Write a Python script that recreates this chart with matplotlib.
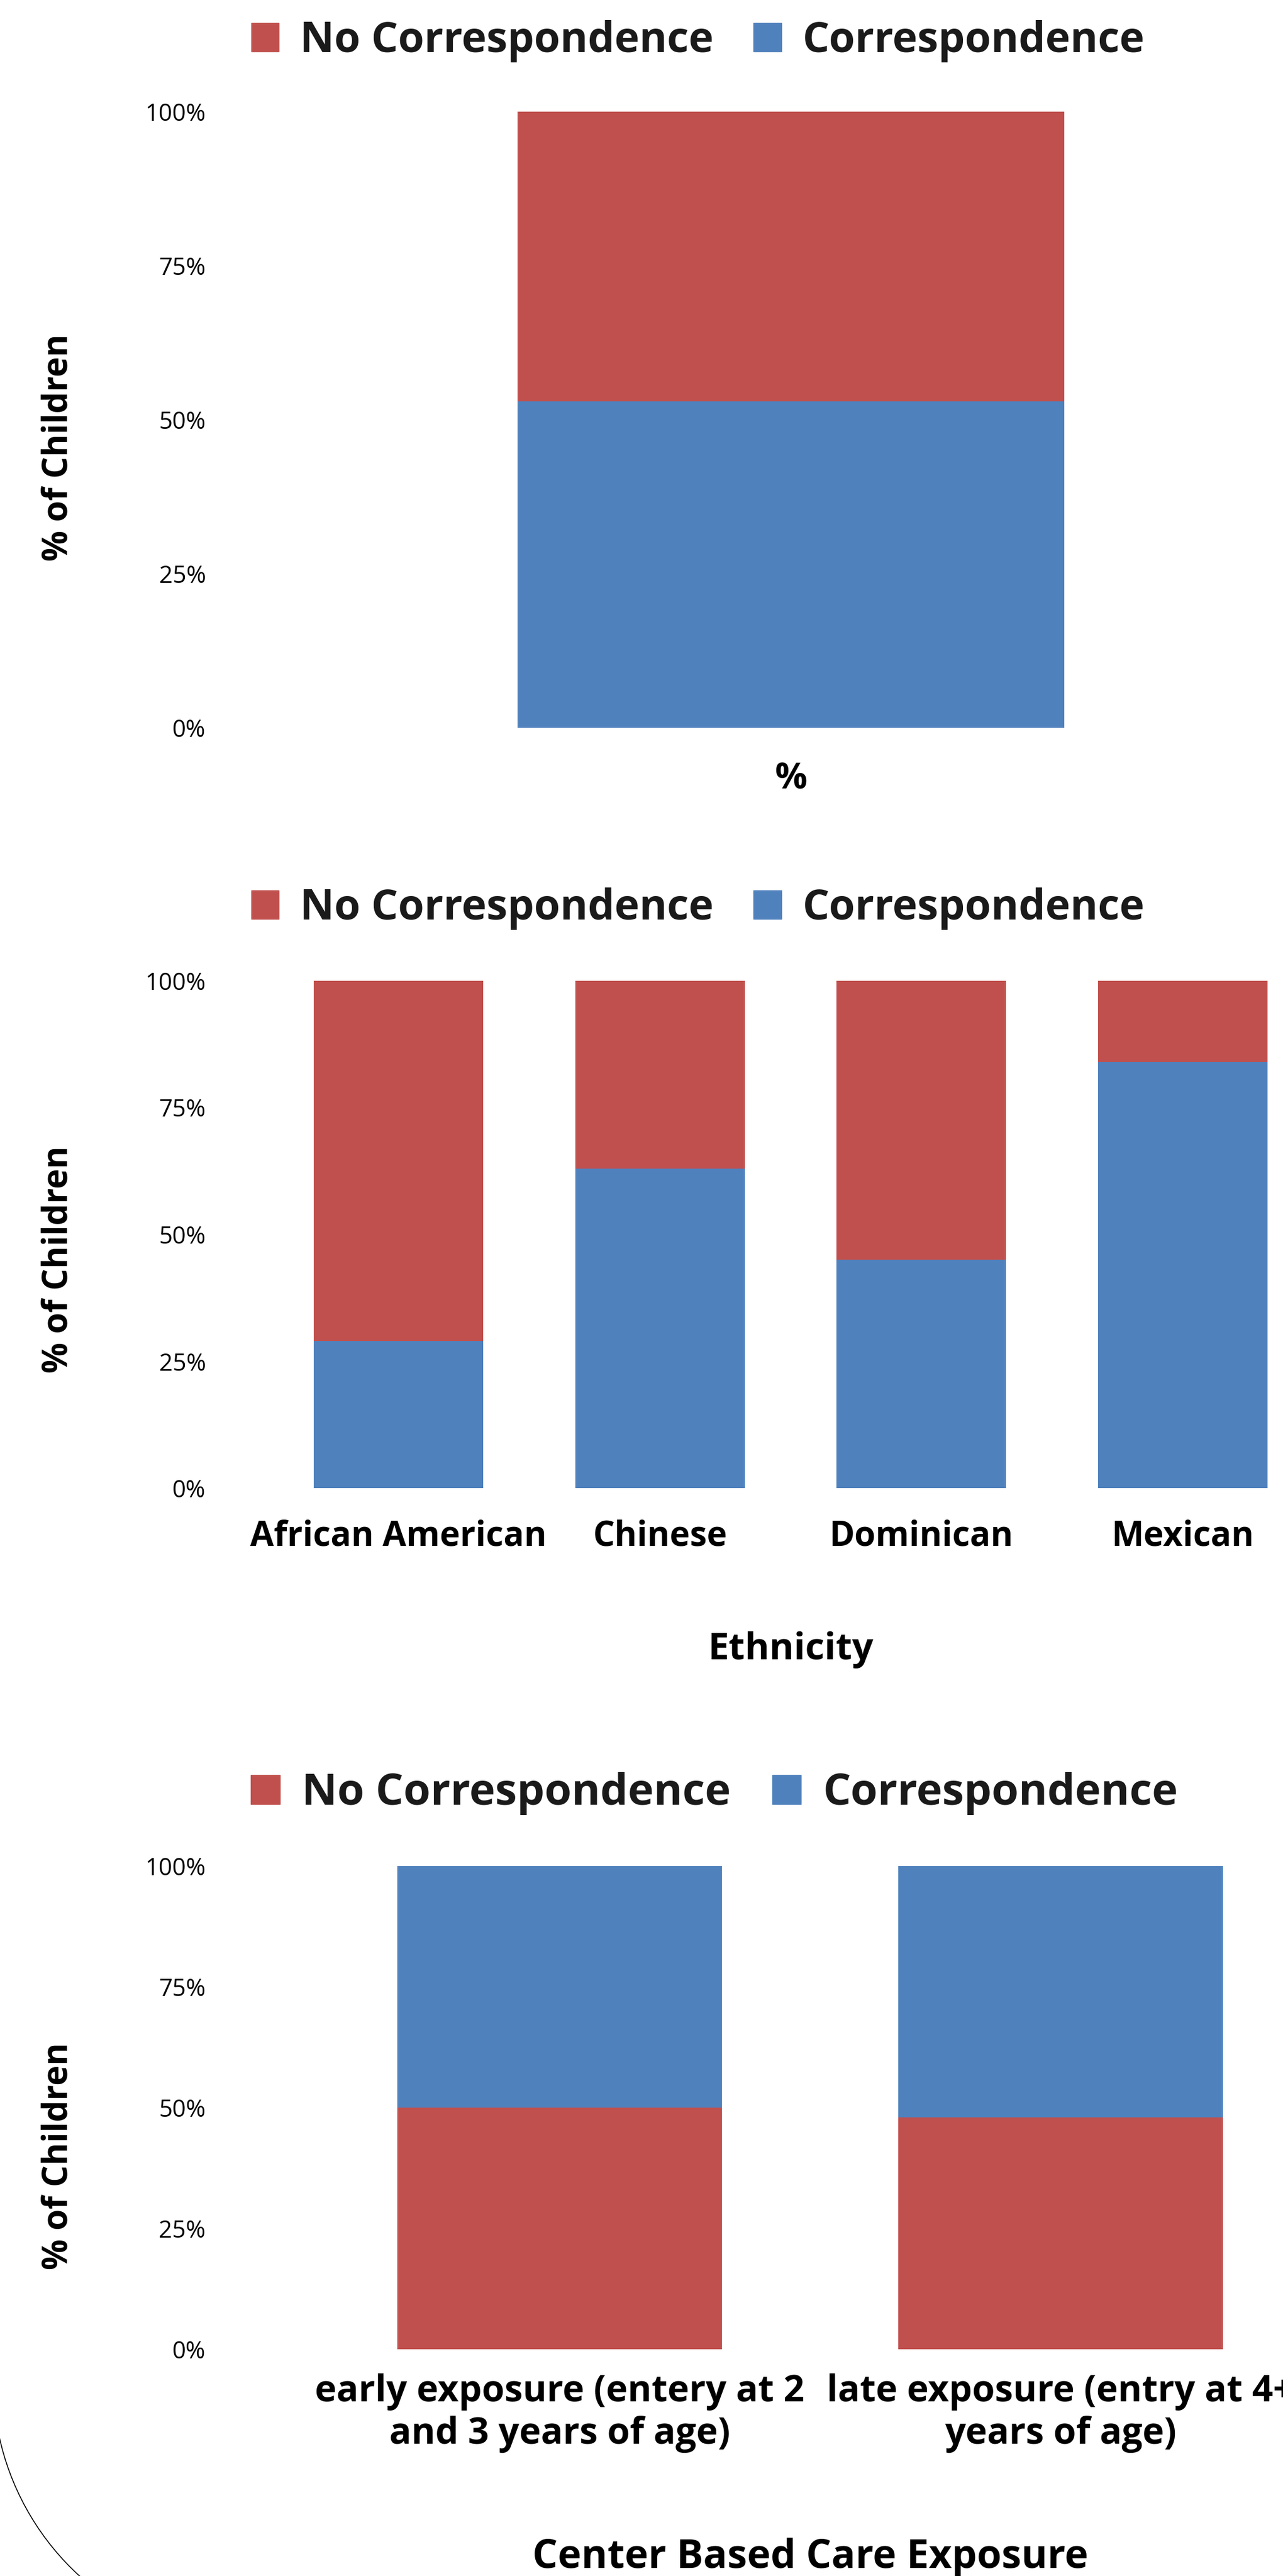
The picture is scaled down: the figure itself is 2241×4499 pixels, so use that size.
import matplotlib.pyplot as plt
from matplotlib.patches import Patch, Arc

# canvas size in pixels
W, H = 2241, 4499
DPI = 100

red = '#C0504D'
blue = '#4F81BD'

# ---- data ----
overall_cats = ['%']
overall_corr = [53]
overall_nocorr = [47]

eth_cats = ['African American', 'Chinese', 'Dominican', 'Mexican']
eth_corr = [29, 63, 45, 84]
eth_nocorr = [71, 37, 55, 16]

care_cats = ['early exposure (entery at 2\nand 3 years of age)',
             'late exposure (entry at 4+\nyears of age)']
care_nocorr = [50, 48]
care_corr = [50, 52]

ytick_vals = [0, 25, 50, 75, 100]
ytick_text = ['0%', '25%', '50%', '75%', '100%']
legend_labels = ['No Correspondence', 'Correspondence']

plt.rcParams['font.family'] = ['Open Sans', 'DejaVu Sans']

fig = plt.figure(figsize=(W / DPI, H / DPI), dpi=DPI)


def px_axes(left, right, top, bottom):
    # axes placed in pixel coords (y measured from top)
    return fig.add_axes([left / W, 1 - bottom / H, (right - left) / W, (bottom - top) / H])


def style_axes(ax, ncat, ypad, xpad, xsize):
    ax.set_ylim(0, 100)
    ax.set_xlim(-0.5, ncat - 0.5)
    for s in ax.spines.values():
        s.set_visible(False)
    ax.set_yticks(ytick_vals, ytick_text)
    ax.tick_params(axis='y', length=0, pad=ypad, labelsize=30)
    ax.tick_params(axis='x', length=0, pad=xpad, labelsize=xsize)
    for lbl in ax.get_xticklabels():
        lbl.set_fontweight('bold')


def add_legend(ax, cx, cy, size):
    handles = [Patch(facecolor=red, edgecolor=red), Patch(facecolor=blue, edgecolor=blue)]
    ax.legend(handles, legend_labels, ncol=2, loc='center',
              bbox_to_anchor=(cx / W, 1 - cy / H), bbox_transform=fig.transFigure,
              frameon=False, handlelength=0.66, handleheight=0.66,
              handletextpad=0.5, columnspacing=0.95, labelcolor='#1a1a1a',
              prop={'weight': 'bold', 'size': size})


def ylabel_at(y):
    fig.text(102 / W, 1 - y / H, '% of Children', rotation=90, ha='center', va='center',
             fontsize=43, fontweight='bold')


# ---- panel 1: overall ----
ax1 = px_axes(468, 2295, 195, 1271)
ax1.bar(range(len(overall_cats)), overall_corr, width=0.523, color=blue)
ax1.bar(range(len(overall_cats)), overall_nocorr, width=0.523, bottom=overall_corr, color=red)
ax1.set_xticks(range(len(overall_cats)), overall_cats)
style_axes(ax1, len(overall_cats), 78, 42, 45)
add_legend(ax1, 1219, 72, 53)
ylabel_at(782)

# ---- panel 2: ethnicity ----
ax2 = px_axes(468, 2294, 1713, 2599)
ax2.bar(range(len(eth_cats)), eth_corr, width=0.648, color=blue)
ax2.bar(range(len(eth_cats)), eth_nocorr, width=0.648, bottom=eth_corr, color=red)
ax2.set_xticks(range(len(eth_cats)), eth_cats)
style_axes(ax2, len(eth_cats), 78, 39, 43)
add_legend(ax2, 1219, 1587, 53)
ylabel_at(2200)
ax2.set_xlabel('Ethnicity', fontsize=47, fontweight='bold', va='baseline')
ax2.xaxis.set_label_coords(0.5, -(2898 - 2599) / (2599 - 1713))

# ---- panel 3: center based care ----
ax3 = px_axes(540, 2290, 3259, 4103)
ax3.bar(range(len(care_cats)), care_nocorr, width=0.649, color=red)
ax3.bar(range(len(care_cats)), care_corr, width=0.649, bottom=care_nocorr, color=blue)
ax3.set_xticks(range(len(care_cats)), care_cats)
style_axes(ax3, len(care_cats), 130, 30, 46)
add_legend(ax3, 1248, 3133, 55)
ylabel_at(3766)
ax3.set_xlabel('Center Based Care Exposure', fontsize=50, fontweight='bold', va='baseline')
ax3.xaxis.set_label_coords(0.5, -(4485 - 4103) / (4103 - 3259))

# thin curved outline in the lower left corner
arc = Arc((451 / W, 1 - 4157 / H), 2 * 463 / W, 2 * 463 / H, theta1=185, theta2=245,
          transform=fig.transFigure, color='black', lw=1.2)
fig.add_artist(arc)

fig.savefig('out.png', dpi=DPI)
